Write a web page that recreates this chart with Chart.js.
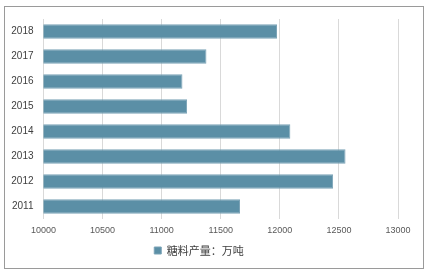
<!DOCTYPE html>
<html><head><meta charset="utf-8">
<script src="https://cdn.jsdelivr.net/npm/chart.js@4"></script>
<style>html,body{margin:0;padding:0;background:#fff;}#wrap{width:428px;height:275px;}</style>
</head><body><div id="wrap"><canvas id="c" width="428" height="275"></canvas></div>
<script>
const categories = ["2018","2017","2016","2015","2014","2013","2012","2011"];
const seriesName = "糖料产量：万吨";
const values = [11976, 11379, 11176, 11215, 12089, 12556, 12451, 11663];
const xTicks = [10000, 10500, 11000, 11500, 12000, 12500, 13000];

const borderPlugin = {
  id: 'frame',
  beforeDraw(chart) {
    const ctx = chart.ctx;
    ctx.save();
    ctx.fillStyle = '#fff';
    ctx.fillRect(0, 0, chart.width, chart.height);
    ctx.strokeStyle = '#9a9a9a';
    ctx.lineWidth = 1;
    ctx.strokeRect(4.5, 6.5, 419, 262);
    ctx.restore();
  }
};

new Chart(document.getElementById('c'), {
  type: 'bar',
  data: {
    labels: categories,
    datasets: [{
      label: seriesName,
      data: values,
      backgroundColor: '#5b8fa6',
      borderColor: '#7ba3b6',
      borderWidth: 1,
      borderSkipped: false,
      categoryPercentage: 1,
      barPercentage: 0.58
    }]
  },
  options: {
    indexAxis: 'y',
    responsive: false,
    animation: false,
    devicePixelRatio: 1,
    layout: { padding: { left: 0, right: 30, top: 19, bottom: 9 } },
    scales: {
      x: {
        min: 10000, max: 13000,
        afterBuildTicks(axis) { axis.ticks = xTicks.map(v => ({ value: v })); },
        grid: { color: '#d9d9d9', drawTicks: false },
        border: { display: false },
        ticks: { color: '#595959', font: { family: 'Liberation Sans', size: 9 }, padding: 6, maxRotation: 0,
                 callback: v => String(v) },
        afterFit(axis) { axis.height = 18; }
      },
      y: {
        grid: { display: false, drawTicks: false },
        border: { display: false },
        ticks: { color: '#404040', font: { family: 'Liberation Sans', size: 10 }, padding: 10 },
        afterFit(axis) { axis.width = 43.5; }
      }
    },
    plugins: {
      legend: {
        position: 'bottom',
        labels: {
          color: '#404040',
          font: { family: 'Noto Sans CJK SC', size: 11 },
          boxWidth: 7, boxHeight: 7, padding: 8
        }
      },
      tooltip: { enabled: false }
    }
  },
  plugins: [borderPlugin]
});
</script>
</body></html>
